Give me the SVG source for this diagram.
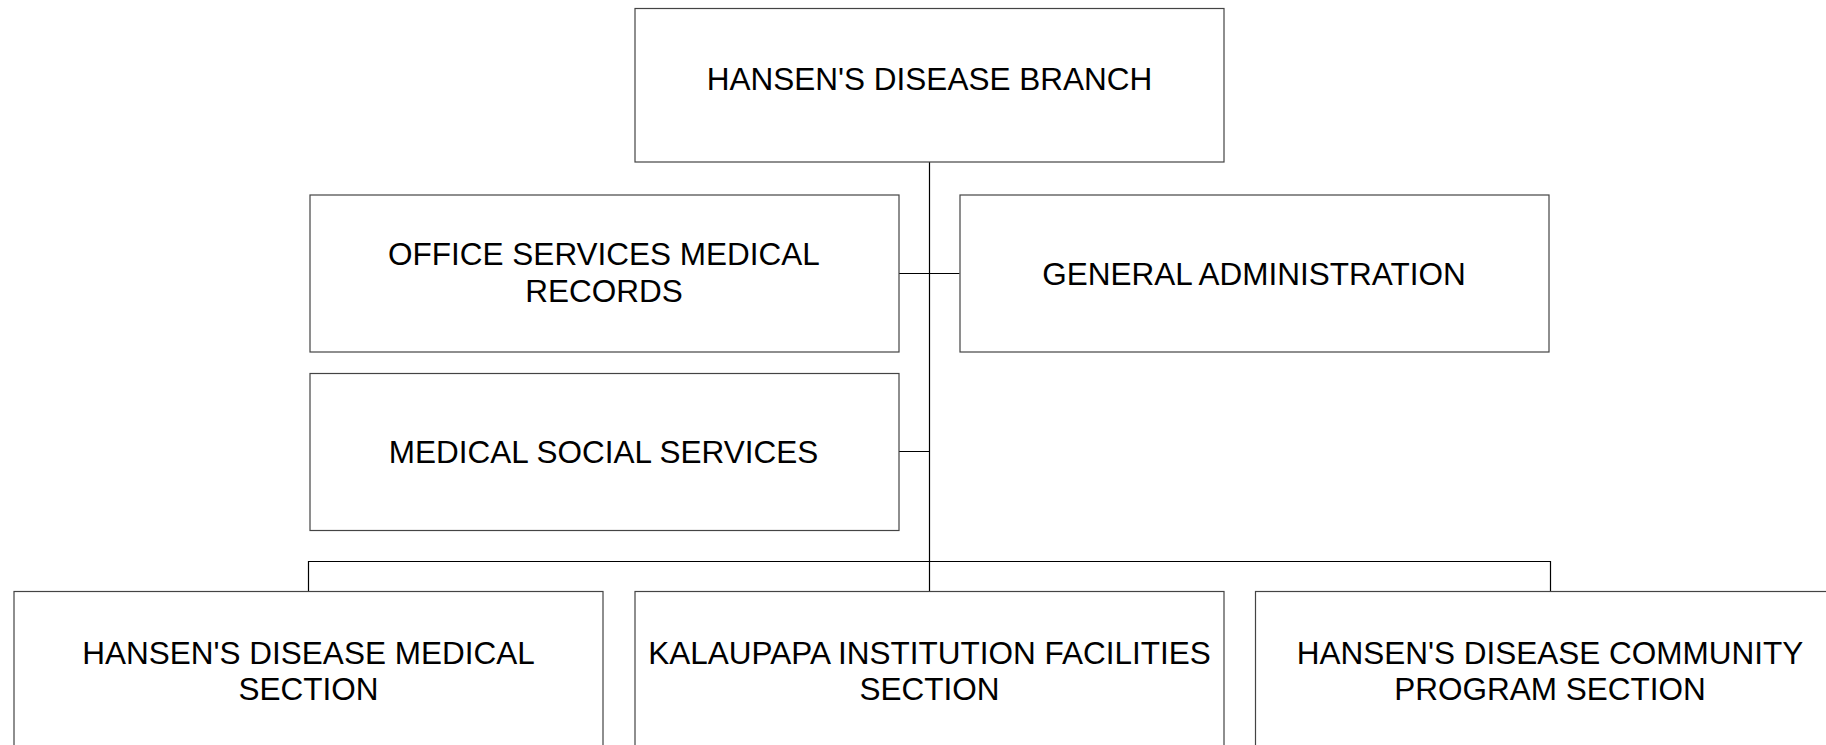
<svg xmlns="http://www.w3.org/2000/svg" width="1826" height="745" viewBox="0 0 1826 745">
<style>
.box{fill:#fff;stroke:#444;stroke-width:1.2}
.t{font-family:"Liberation Sans",Arial,sans-serif;font-size:31.5px;fill:#000;text-anchor:middle}
.c{stroke:#000;stroke-width:1.2;fill:none}
</style>
<rect width="1826" height="745" fill="#fff"/>
<g id="connectors">
<path class="c" d="M929.5 162V591.5M899 273.5H959.5M899 451.5H929.5M308.5 591.5V561.5H1550.5V591.5"/>
</g>
<g id="n-branch"><rect class="box" x="635" y="8.5" width="589" height="153.5"/><text class="t" x="929.5" y="90">HANSEN'S DISEASE BRANCH</text></g>
<g id="n-office"><rect class="box" x="310" y="195" width="589" height="157"/><text class="t" x="604" y="264.5">OFFICE SERVICES MEDICAL</text><text class="t" x="604" y="301.5">RECORDS</text></g>
<g id="n-general"><rect class="box" x="960" y="195" width="589" height="157"/><text class="t" x="1254" y="284.5">GENERAL ADMINISTRATION</text></g>
<g id="n-social"><rect class="box" x="310" y="373.5" width="589" height="157"/><text class="t" x="603.5" y="462.5">MEDICAL SOCIAL SERVICES</text></g>
<g id="n-medical"><rect class="box" x="14" y="591.5" width="589" height="170"/><text class="t" x="308.5" y="664">HANSEN'S DISEASE MEDICAL</text><text class="t" x="308.5" y="699.5">SECTION</text></g>
<g id="n-kalaupapa"><rect class="box" x="635" y="591.5" width="589" height="170"/><text class="t" x="929.5" y="664">KALAUPAPA INSTITUTION FACILITIES</text><text class="t" x="929.5" y="699.5">SECTION</text></g>
<g id="n-community"><rect class="box" x="1255.5" y="591.5" width="589" height="170"/><text class="t" x="1550" y="664">HANSEN'S DISEASE COMMUNITY</text><text class="t" x="1550" y="699.5">PROGRAM SECTION</text></g>
</svg>
